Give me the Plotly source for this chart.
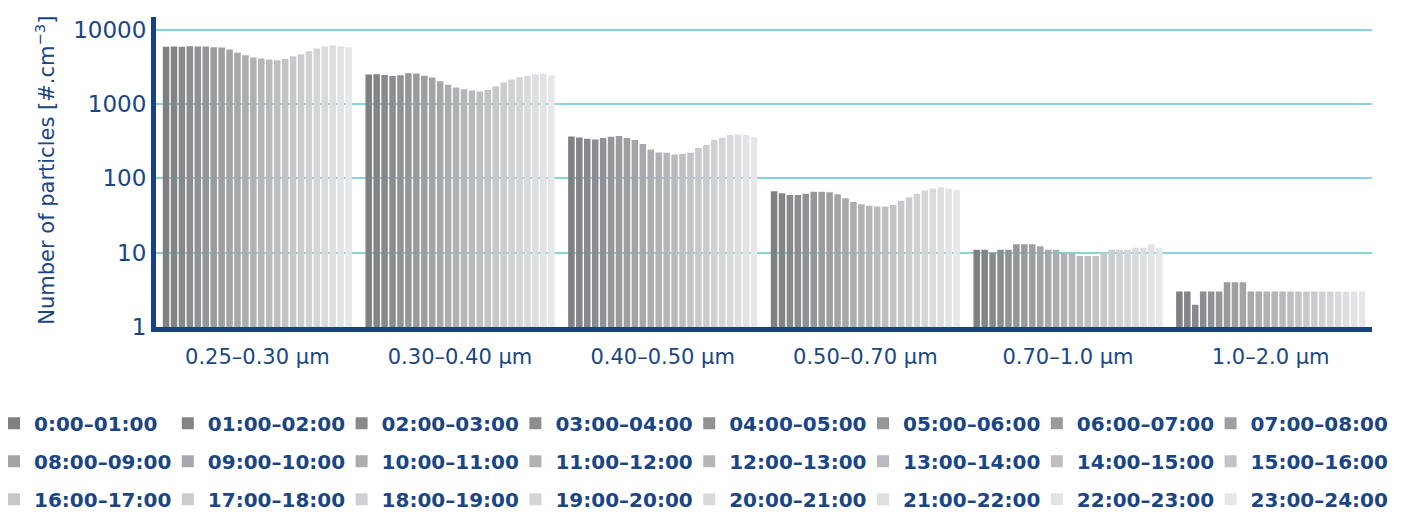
import plotly.graph_objects as go

# Particle size bins (x categories)
size_bins = ["0.25–0.30 µm", "0.30–0.40 µm", "0.40–0.50 µm",
             "0.50–0.70 µm", "0.70–1.0 µm", "1.0–2.0 µm"]

# Hourly intervals (one bar series per hour)
hours = ["0:00–01:00", "01:00–02:00", "02:00–03:00", "03:00–04:00",
         "04:00–05:00", "05:00–06:00", "06:00–07:00", "07:00–08:00",
         "08:00–09:00", "09:00–10:00", "10:00–11:00", "11:00–12:00",
         "12:00–13:00", "13:00–14:00", "14:00–15:00", "15:00–16:00",
         "16:00–17:00", "17:00–18:00", "18:00–19:00", "19:00–20:00",
         "20:00–21:00", "21:00–22:00", "22:00–23:00", "23:00–24:00"]

# Particle counts per size bin, one value per hour [#/cm3]
bin_025_030 = [5900, 5950, 5900, 6000, 5950, 5950, 5850, 5800, 5450, 4900, 4550, 4250,
               4100, 4000, 3900, 4050, 4400, 4700, 5150, 5600, 5950, 6200, 6000, 5850]
bin_030_040 = [2500, 2530, 2475, 2400, 2455, 2610, 2580, 2420, 2280, 2040, 1820, 1670,
               1590, 1525, 1475, 1555, 1745, 1950, 2140, 2300, 2420, 2530, 2555, 2455]
bin_040_050 = [367, 356, 342, 334, 349, 364, 372, 349, 328, 290, 245, 224,
               221, 210, 215, 221, 256, 284, 331, 352, 383, 390, 387, 360]
bin_050_070 = [67, 63, 60, 60, 62, 66, 66, 65, 61, 54, 48, 45,
               43, 42, 42, 44, 50, 56, 62, 69, 73, 76, 73, 70]
bin_070_100 = [11, 11, 10, 11, 11, 13, 13, 13, 12.2, 11, 11, 10,
               10, 9, 9, 9, 10, 11, 11, 11, 11.7, 11.7, 13, 11.7]
bin_100_200 = [3, 3, 2, 3, 3, 3, 4, 4, 4, 3, 3, 3,
               3, 3, 3, 3, 3, 3, 3, 3, 3, 3, 3, 3]

bins_data = [bin_025_030, bin_030_040, bin_040_050, bin_050_070, bin_070_100, bin_100_200]

# y ticks
tick_vals = [1, 10, 100, 1000, 10000]
tick_text = ["1", "10", "100", "1000", "10000"]

NAVY = "#1b4683"
AXIS = "#17427f"
GRID = "#86d3df"
DARK = (0x7f, 0x80, 0x83)
LIGHT = (0xe6, 0xe7, 0xe9)

W, H = 1418, 512
ML, MR, MT = 156, 46, 17
PLOT_BOTTOM = 327.5
PLOT_W = W - ML - MR
PLOT_H = PLOT_BOTTOM - MT

# Legend grid: 3 rows of 8 entries, one single-entry legend per cell
LEG_LEFT = -6
LEG_PITCH = 173.8
LEG_ROWS = [424, 462, 500]
LEG_COLS = 8


def px_x(p):
    return (p - ML) / PLOT_W


def px_y(q):
    return (PLOT_BOTTOM - q) / PLOT_H


def shade(i, n):
    t = i / (n - 1)
    r, g, b = (round(a + (c - a) * t) for a, c in zip(DARK, LIGHT))
    return f"rgb({r},{g},{b})"


def legend_key(i):
    return "legend" if i == 0 else f"legend{i + 1}"


fig = go.Figure()
for i, hour in enumerate(hours):
    fig.add_trace(go.Bar(
        x=size_bins,
        y=[series[i] for series in bins_data],
        name=hour,
        marker=dict(color=shade(i, len(hours)), line=dict(width=0)),
        legend=legend_key(i),
    ))

legend_common = dict(
    orientation="h",
    xanchor="left",
    yanchor="middle",
    font=dict(family="DejaVu Sans", size=20, color=NAVY, weight="bold"),
    bgcolor="rgba(0,0,0,0)",
    borderwidth=0,
    itemclick=False,
)

legends = {}
for i in range(len(hours)):
    row, col = divmod(i, LEG_COLS)
    legends[legend_key(i)] = dict(
        legend_common,
        x=px_x(LEG_LEFT + col * LEG_PITCH),
        y=px_y(LEG_ROWS[row]),
    )

fig.update_layout(
    width=W, height=H,
    margin=dict(l=ML, r=MR, t=MT, b=H - PLOT_BOTTOM, autoexpand=False),
    paper_bgcolor="white",
    plot_bgcolor="white",
    barmode="group",
    bargap=0.06,
    bargroupgap=0.18,
    showlegend=True,
    **legends,
    xaxis=dict(
        showline=True, linecolor=AXIS, linewidth=5,
        showgrid=False, ticks="",
        tickfont=dict(family="DejaVu Sans", size=21, color=NAVY),
        ticklabelstandoff=7,
    ),
    yaxis=dict(
        type="log",
        range=[0, 4.173],
        showline=True, linecolor=AXIS, linewidth=5,
        showgrid=True, gridcolor=GRID, gridwidth=2,
        zeroline=False, ticks="",
        tickvals=tick_vals, ticktext=tick_text,
        tickfont=dict(family="DejaVu Sans", size=23, color=NAVY),
        ticklabelstandoff=0,
    ),
    annotations=[dict(
        text="Number of particles [#.cm<sup>−3</sup>]",
        xref="paper", yref="paper",
        x=px_x(45), y=px_y(171),
        xanchor="center", yanchor="middle",
        textangle=-90, showarrow=False,
        font=dict(family="DejaVu Sans", size=21, color=NAVY),
    )],
)

fig.write_html("out.html")
